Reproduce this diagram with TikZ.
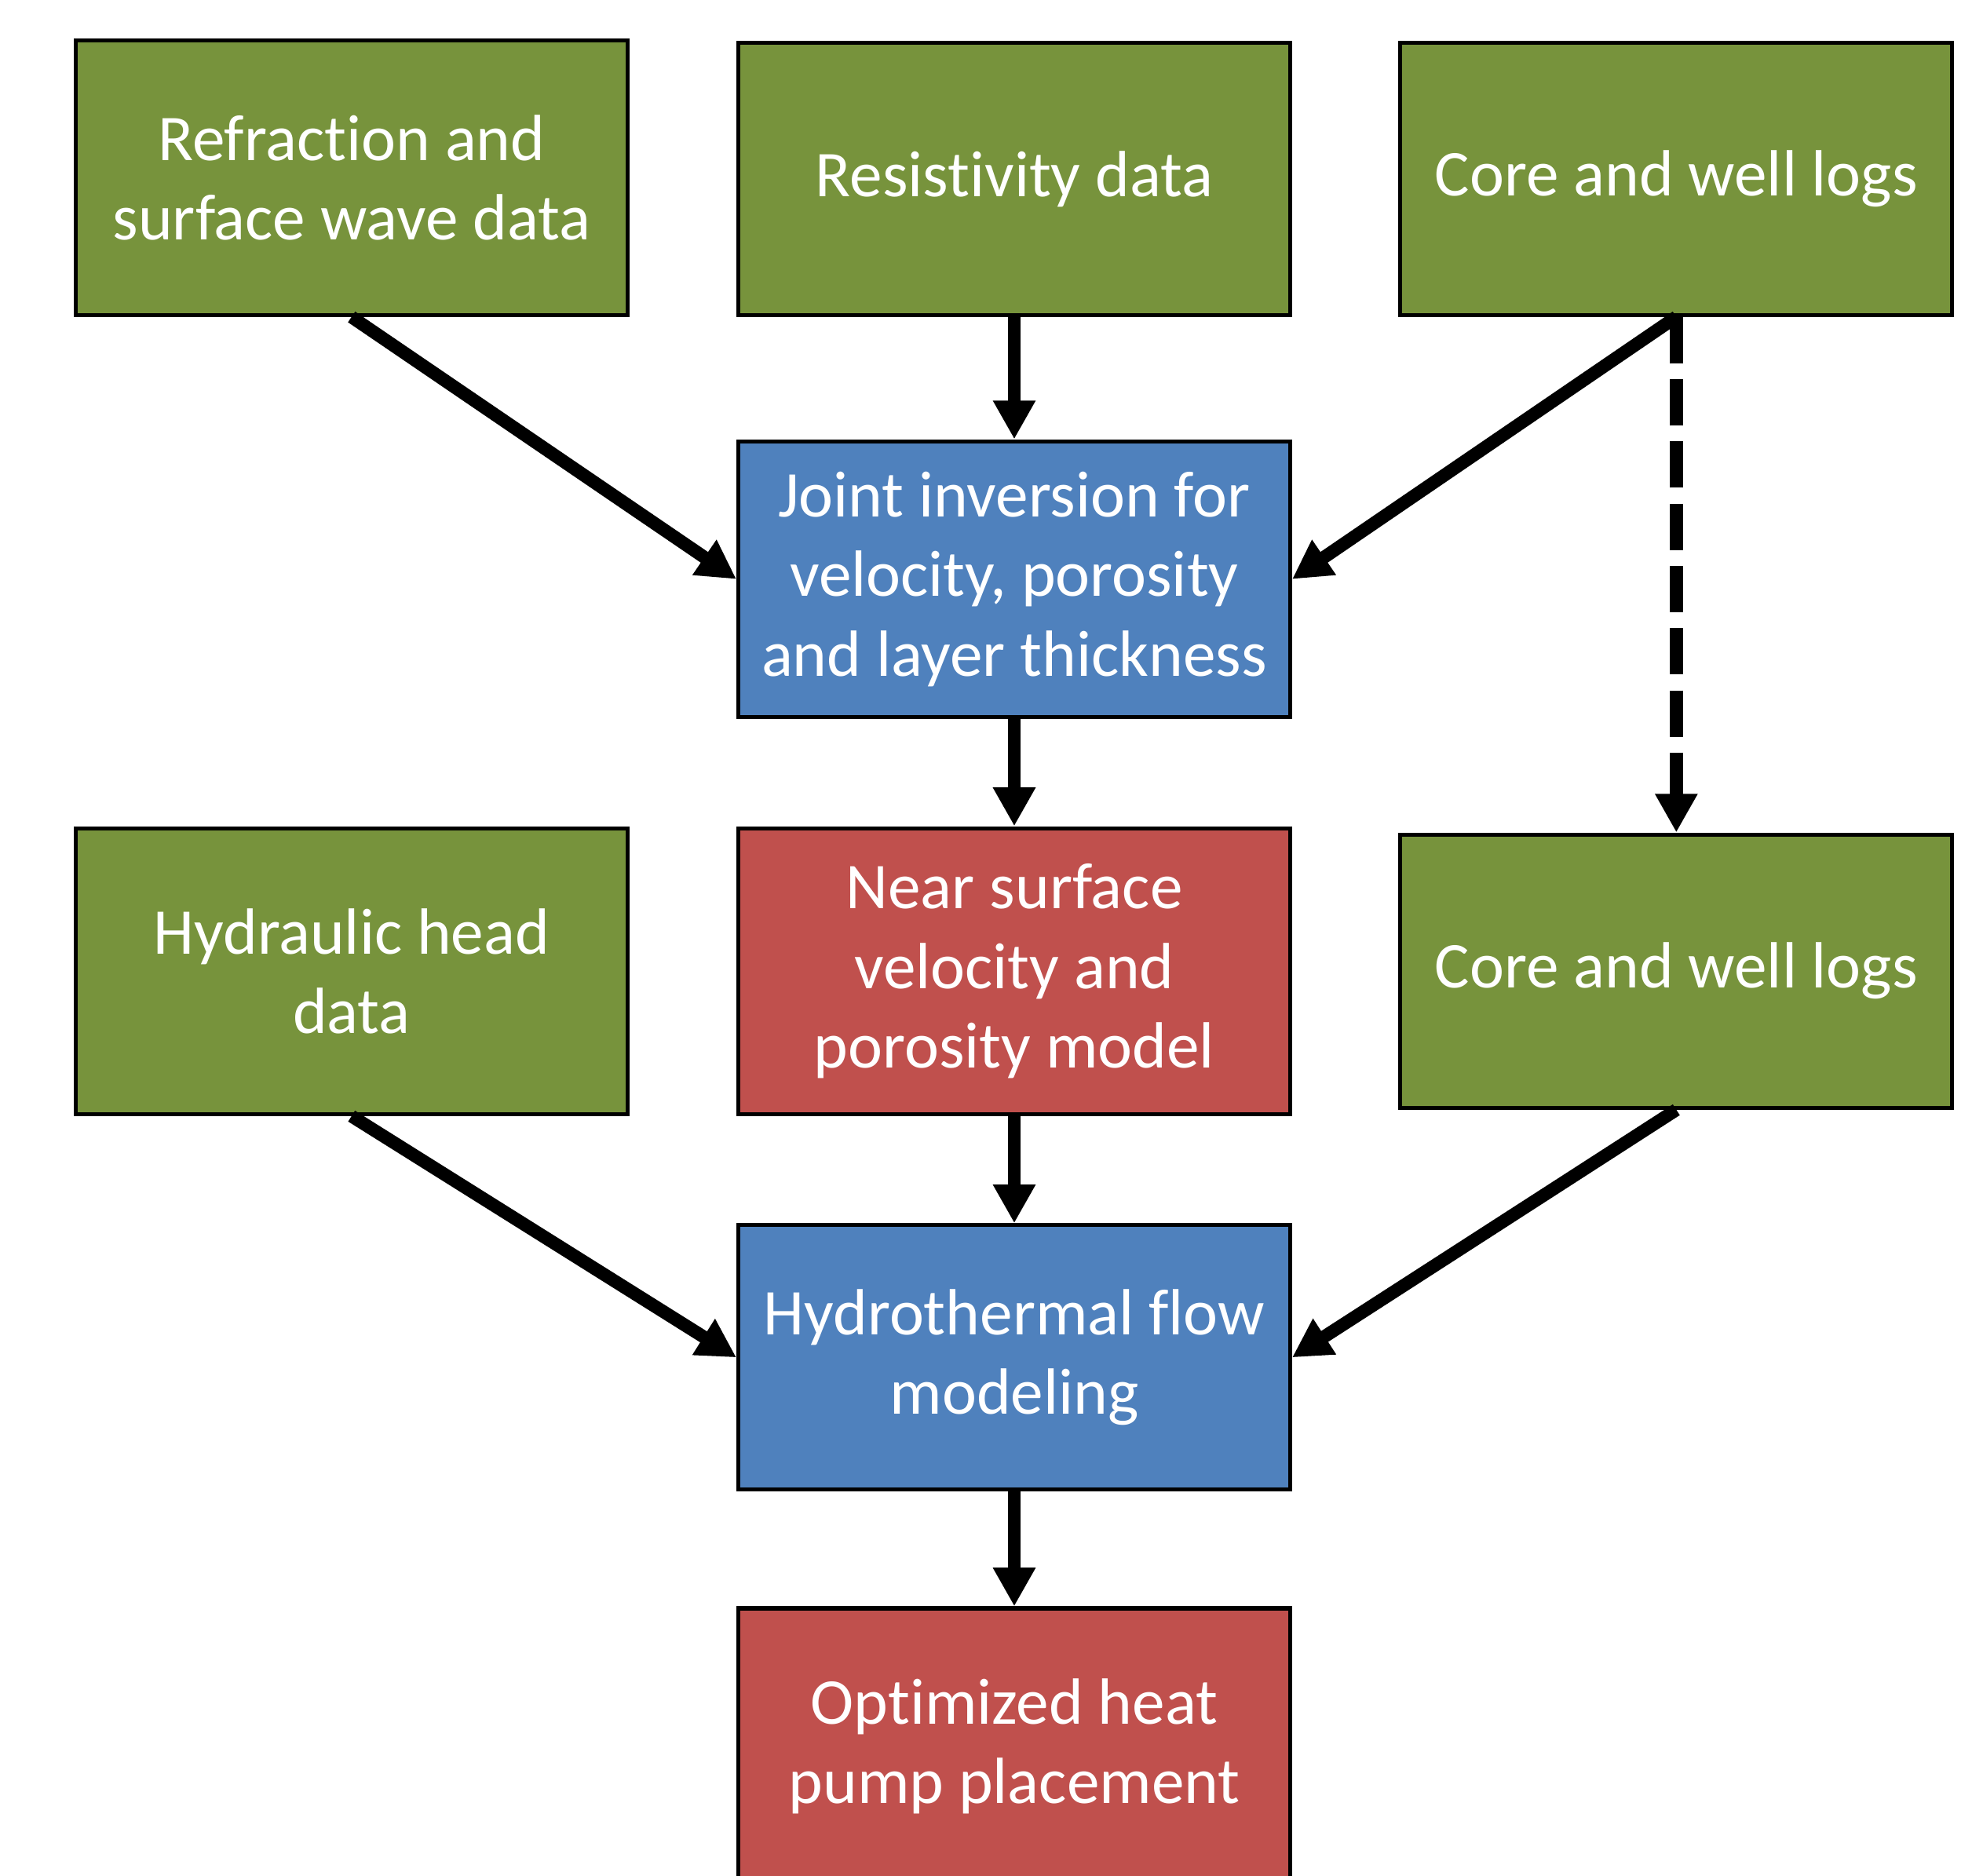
\documentclass[tikz,border=0pt]{standalone}
\usepackage{fontspec}
\setmainfont[Ligatures=NoCommon]{Carlito}
\usetikzlibrary{arrows.meta}
\definecolor{verde}{HTML}{77933C}
\definecolor{blu}{HTML}{4F81BD}
\definecolor{rosso}{HTML}{C0504D}

\begin{document}
\begin{tikzpicture}[x=0.01cm,y=-0.01cm,
    blocco/.style={draw=black,line width=0.9pt,text=white,align=center,
      minimum width=4.36cm,inner sep=0pt,
      font=\fontsize{14.7}{17.9}\selectfont},
    dato/.style={blocco,fill=verde},
    calcolo/.style={blocco,fill=blu},
    modello/.style={blocco,fill=rosso},
    freccia/.style={line width=2.9pt,-{Triangle[width=9pt,length=8.7pt]}}]
    \useasboundingbox (0,0) rectangle (1568,1483); % area della figura

    % dati di ingresso (prima riga)
    \node[dato,minimum height=2.17cm] (rifrazione) at (278,140.5)
         {Refraction and\\surface wave data};
    \node[dato,minimum height=2.15cm] (resistivita) at (802,141.5)
         {Resistivity data};
    \node[dato,minimum height=2.15cm] (pozzi) at (1325.5,141.5)
         {Core and well logs};
    % inversione congiunta
    \node[calcolo,minimum height=2.18cm] (inversione) at (802,458)
         {Joint inversion for\\velocity, porosity\\and layer thickness};
    % seconda riga
    \node[dato,minimum height=2.26cm] (idraulica) at (278,768)
         {Hydraulic head\\data};
    \node[modello,minimum height=2.26cm] (vicino) at (802,768)
         {Near surface\\velocity and\\porosity model};
    \node[dato,minimum height=2.16cm] (pozzibis) at (1325.5,768)
         {Core and well logs};
    % modellazione e risultato
    \node[calcolo,minimum height=2.09cm] (flusso) at (802,1073.5)
         {Hydrothermal flow\\modeling};
    \node[modello,minimum height=2.18cm] (pompa) at (802,1381)
         {Optimized heat\\pump placement};

    \draw[freccia] (rifrazione.south) -- (inversione.west); % rifrazione -> inversione
    \draw[freccia] (resistivita.south) -- (inversione.north); % resistivita -> inversione
    \draw[freccia] (pozzi.south) -- (inversione.east); % pozzi -> inversione
    \draw[freccia,dash pattern=on 10.4pt off 3.6pt] (pozzi.south) -- (pozzibis.north); % tratteggiata
    \draw[freccia] (inversione.south) -- (vicino.north); % inversione -> modello
    \draw[freccia] (idraulica.south) -- (flusso.west); % carico idraulico -> flusso
    \draw[freccia] (vicino.south) -- (flusso.north); % modello -> flusso
    \draw[freccia] (pozzibis.south) -- (flusso.east); % pozzi -> flusso
    \draw[freccia] (flusso.south) -- (pompa.north); % flusso -> pompa di calore
\end{tikzpicture}
\end{document}
